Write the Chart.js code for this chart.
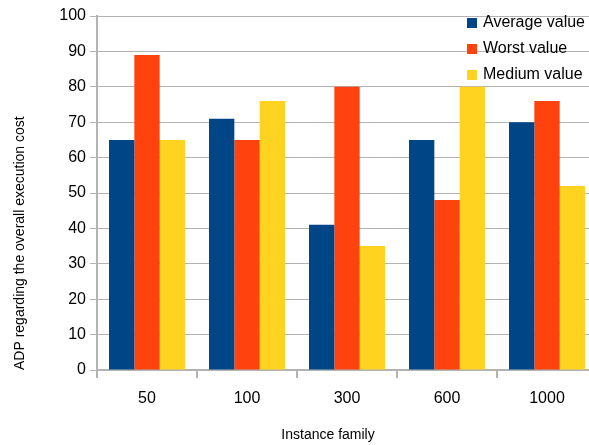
<!DOCTYPE html>
<html lang="en">
<head>
  <meta charset="UTF-8" />
  <title>ADP by instance family</title>
  <script src="https://cdn.jsdelivr.net/npm/chart.js"></script>
  <style>
    body {
      margin: 0;
      overflow: hidden;
      background-color: #ffffff;
      font-family: 'Liberation Sans', Arial, sans-serif;
    }
    .chart-box {
      width: 600px;
      height: 445px;
    }
  </style>
</head>
<body>
  <div class="chart-box">
    <canvas id="barChart"></canvas>
  </div>

  <script>
    const families = ['50', '100', '300', '600', '1000'];
    const averageValue = [65, 71, 41, 65, 70];
    const worstValue = [89, 65, 80, 48, 76];
    const mediumValue = [65, 76, 35, 80, 52];

    const seriesNames = ['Average value', 'Worst value', 'Medium value'];
    const seriesColors = ['#004586', '#ff420e', '#ffd320'];
    const xTitle = 'Instance family';
    const yTitle = 'ADP regarding the overall execution cost';

    // legend sits inside the plot, top right, like the original
    const insideLegend = {
      id: 'insideLegend',
      afterDraw(chart) {
        const ctx = chart.ctx;
        ctx.save();
        ctx.font = '16px "Liberation Sans", Arial, sans-serif';
        ctx.textBaseline = 'middle';
        ctx.fillStyle = '#000';
        chart.data.datasets.forEach((ds, i) => {
          const y = 23 + i * 26;
          ctx.fillStyle = ds.backgroundColor;
          ctx.fillRect(467, y - 5, 10, 10);
          ctx.fillStyle = '#000';
          ctx.fillText(ds.label, 483, y);
        });
        // x axis title
        ctx.font = '14px "Liberation Sans", Arial, sans-serif';
        ctx.textAlign = 'center';
        ctx.fillText(xTitle, 328, 435);
        ctx.restore();
      }
    };

    const ctxBar = document.getElementById('barChart').getContext('2d');

    new Chart(ctxBar, {
      type: 'bar',
      data: {
        labels: families,
        datasets: [averageValue, worstValue, mediumValue].map((d, i) => ({
          label: seriesNames[i],
          data: d,
          backgroundColor: seriesColors[i],
          categoryPercentage: 0.76,
          barPercentage: 1.0
        }))
      },
      options: {
        responsive: true,
        maintainAspectRatio: false,
        animation: false,
        layout: { padding: { top: 16, right: 3, left: 0, bottom: 0 } },
        plugins: {
          legend: { display: false },
          tooltip: { enabled: false }
        },
        scales: {
          x: {
            afterFit: s => { s.height = 75; },
            grid: {
              offset: true,
              drawOnChartArea: false,
              color: '#b3b3b3',
              tickLength: 8,
              lineWidth: 2
            },
            border: { color: '#b3b3b3', width: 2 },
            ticks: {
              color: '#000',
              padding: 11,
              font: { family: '"Liberation Sans", Arial, sans-serif', size: 16 }
            }
          },
          y: {
            min: 0,
            max: 100,
            afterFit: s => { s.width = 97; },
            ticks: {
              stepSize: 10,
              color: '#000',
              padding: 4,
              font: { family: '"Liberation Sans", Arial, sans-serif', size: 16 }
            },
            grid: {
              color: '#b3b3b3',
              tickLength: 7
            },
            border: { color: '#b3b3b3', width: 2 },
            title: {
              display: true,
              text: yTitle,
              align: 'start',
              color: '#000',
              padding: { top: 12, bottom: 0 },
              font: { family: '"Liberation Sans", Arial, sans-serif', size: 14 }
            }
          }
        }
      },
      plugins: [insideLegend]
    });
  </script>
</body>
</html>
